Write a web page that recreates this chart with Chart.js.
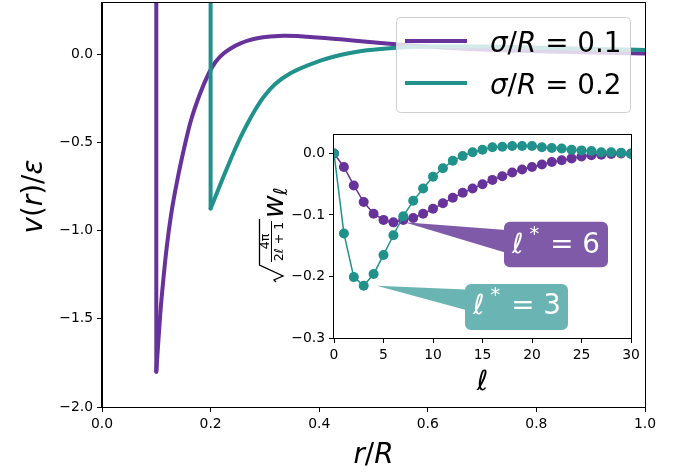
<!DOCTYPE html>
<html><head><meta charset="utf-8">
<script src="https://cdn.jsdelivr.net/npm/chart.js@4/dist/chart.umd.min.js"></script>
<style>
html,body{margin:0;padding:0;background:#fff;}
#wrap{position:relative;width:683px;height:474px;overflow:hidden;}
#main{position:absolute;left:0;top:0;}
#inset{position:absolute;left:250px;top:125px;}
</style></head><body>
<div id="wrap"><canvas id="main" width="683" height="474"></canvas><canvas id="inset" width="395" height="280"></canvas></div>
<script>
// ---------- data ----------
const seriesLabels = ['σ/R = 0.1', 'σ/R = 0.2'];
// sigma/R = 0.1 : first point is the hard-core wall (off the top of the axes)
const r_s01 = [0.1, 0.1, 0.1031, 0.1074, 0.1129, 0.1193, 0.1276, 0.1387, 0.153, 0.163, 0.1796, 0.1967, 0.209, 0.2243, 0.24, 0.255, 0.27, 0.286, 0.31, 0.335, 0.36, 0.378, 0.41, 0.439, 0.513, 0.6, 0.7, 0.8, 0.9, 1.0];
const v_s01 = [0.5, -1.80, -1.658, -1.469, -1.280, -1.092, -0.903, -0.714, -0.51, -0.385, -0.232, -0.109, -0.045, 0.004, 0.037, 0.060, 0.077, 0.089, 0.099, 0.104, 0.102, 0.098, 0.091, 0.083, 0.062, 0.042, 0.025, 0.015, 0.009, 0.003];
// sigma/R = 0.2
const r_s02 = [0.2, 0.2, 0.2109, 0.2219, 0.233, 0.244, 0.255, 0.268, 0.283, 0.298, 0.319, 0.347, 0.396, 0.439, 0.47, 0.513, 0.56, 0.62, 0.7, 0.8, 0.9, 1.0];
const v_s02 = [0.5, -0.875, -0.793, -0.708, -0.626, -0.547, -0.473, -0.394, -0.312, -0.242, -0.170, -0.109, -0.044, -0.006, 0.013, 0.028, 0.038, 0.043, 0.042, 0.036, 0.029, 0.023];
// inset: multipole weights vs ell
const ell = [0,1,2,3,4,5,6,7,8,9,10,11,12,13,14,15,16,17,18,19,20,21,22,23,24,25,26,27,28,29,30];
const w_s01 = [0, -0.022, -0.052, -0.079, -0.098, -0.108, -0.112, -0.108, -0.105, -0.098, -0.090, -0.081, -0.072, -0.064, -0.057, -0.050, -0.043, -0.037, -0.031, -0.026, -0.022, -0.018, -0.014, -0.011, -0.008, -0.005, -0.003, -0.002, -0.001, 0.0, 0.0];
const w_s02 = [0, -0.130, -0.201, -0.215, -0.196, -0.165, -0.133, -0.102, -0.077, -0.057, -0.038, -0.024, -0.012, -0.004, 0.002, 0.006, 0.010, 0.011, 0.012, 0.012, 0.012, 0.010, 0.009, 0.008, 0.006, 0.005, 0.004, 0.002, 0.002, 0.001, -0.001];
const peakEll = [6, 3];
const peakText = ['6', '3'];
const mainXTicks = [0, 0.2, 0.4, 0.6, 0.8, 1.0];
const mainYTicks = [-2.0, -1.5, -1.0, -0.5, 0.0];
const insetXTicks = [0, 5, 10, 15, 20, 25, 30];
const insetYTicks = [-0.3, -0.2, -0.1, 0.0];

// ---------- styling ----------
const PURPLE = '#67339b', TEAL = '#21918c';
const PURPLE_BOX = '#7e5aa8', TEAL_BOX = '#6ab5b3';
const FAM = '"DejaVu Sans"';
const F = (s, it) => (it ? 'italic ' : '') + s + 'px ' + FAM;
const fmt1 = v => (Math.abs(v) < 1e-9 ? '0.0' : (v < 0 ? '\u2212' : '') + Math.abs(v).toFixed(1));

function pts(xs, ys, a, b) { const o = []; for (let i = a; i < b; i++) o.push({x: xs[i], y: ys[i]}); return o; }

function drawRich(ctx, pieces, x, y, align) {
  ctx.textAlign = 'left'; ctx.textBaseline = 'alphabetic';
  const ws = pieces.map(p => { ctx.font = p.f; return ctx.measureText(p.t).width; });
  const total = ws.reduce((a, b) => a + b, 0) + pieces.reduce((a, p) => a + (p.dx || 0), 0);
  let cx = align === 'center' ? x - total / 2 : x;
  pieces.forEach((p, i) => { ctx.font = p.f; cx += (p.dx || 0); ctx.fillText(p.t, cx, y + (p.dy || 0)); cx += ws[i]; });
  return total;
}

function frameScale(tickList, fmt, size) {
  return {
    type: 'linear',
    afterBuildTicks: s => { s.ticks = tickList.map(v => ({value: v})); },
    grid: {display: true, drawOnChartArea: false, drawTicks: true, tickLength: 5, color: '#000', tickWidth: 1},
    border: {display: true, color: '#000', width: 1},
    ticks: {font: {family: 'DejaVu Sans', size: size}, color: '#000', padding: 4, callback: fmt, maxRotation: 0, autoSkip: false}
  };
}
const framePlugin = {
  id: 'frame',
  beforeDatasetsDraw(chart) {
    if (chart.canvas.id !== 'inset') return;
    const a = chart.chartArea, ctx = chart.ctx;
    ctx.save(); ctx.fillStyle = '#fff'; ctx.fillRect(a.left, a.top, a.right - a.left, a.bottom - a.top); ctx.restore();
  },
  afterDraw(chart) {
    const a = chart.chartArea, ctx = chart.ctx;
    ctx.save(); ctx.strokeStyle = '#000'; ctx.lineWidth = 1;
    ctx.strokeRect(Math.round(a.left) - 0.5, Math.round(a.top) - 0.5, Math.round(a.right - a.left) + 1, Math.round(a.bottom - a.top) + 1);
    ctx.restore();
  }
};

// ---------- main chart ----------
const mx = frameScale(mainXTicks, v => fmt1(v), 13.9);
mx.min = 0; mx.max = 1;
mx.afterFit = s => { s.height = 67; s.paddingLeft = 0; s.paddingRight = 0; };
const my = frameScale(mainYTicks, v => fmt1(v), 13.9);
my.min = -2.0; my.max = 0.289;
my.afterFit = s => { s.width = 102; s.paddingTop = 0; s.paddingBottom = 0; };

const mainDecor = {
  id: 'mainDecor',
  afterDraw(chart) {
    const ctx = chart.ctx; ctx.save(); ctx.fillStyle = '#000';
    // x label r/R
    drawRich(ctx, [{t: 'r', f: F(27.8, true)}, {t: '/', f: F(27.8)}, {t: 'R', f: F(27.8, true)}], 373.5, 463, 'center');
    // y label v(r)/ε
    ctx.save(); ctx.translate(42, 196.5); ctx.rotate(-Math.PI / 2);
    drawRich(ctx, [{t: 'v', f: F(27.8, true)}, {t: '(', f: F(27.8)}, {t: 'r', f: F(27.8, true)}, {t: ')/', f: F(27.8)}, {t: 'ε', f: F(27.8, true)}], 0, 0, 'center');
    ctx.restore();
    // legend
    const L = 396, T = 17, W = 234, H = 95, rr = 4;
    ctx.beginPath(); ctx.roundRect(L + 0.5, T + 0.5, W, H, rr);
    ctx.fillStyle = 'rgba(255,255,255,0.8)'; ctx.fill();
    ctx.strokeStyle = '#d0d0d0'; ctx.lineWidth = 1; ctx.stroke();
    const cols = [PURPLE, TEAL], ys = [41, 83];
    for (let i = 0; i < 2; i++) {
      ctx.beginPath(); ctx.moveTo(405, ys[i]); ctx.lineTo(467, ys[i]);
      ctx.strokeStyle = cols[i]; ctx.lineWidth = 4; ctx.stroke();
      const parts = seriesLabels[i].split(' = ');
      const lhs = parts[0].split('/');
      ctx.fillStyle = '#000';
      drawRich(ctx, [{t: lhs[0], f: F(27.8, true)}, {t: '/', f: F(27.8)}, {t: lhs[1], f: F(27.8, true)}, {t: ' = ', f: F(27.8)}, {t: parts[1], f: F(27.8)}], 490, ys[i] + 10.5, 'left');
    }
    ctx.restore();
  }
};

const lineDs = (label, data, col, smooth) => Object.assign({label, data, showLine: true, borderColor: col, borderWidth: 4, pointRadius: 0, borderCapStyle: 'round', borderJoinStyle: 'round', clip: 0}, smooth ? {cubicInterpolationMode: 'monotone'} : {});

new Chart(document.getElementById('main'), {
  type: 'scatter',
  data: {datasets: [
    lineDs(seriesLabels[1] + ' wall', pts(r_s02, v_s02, 0, 2), TEAL, false),
    lineDs(seriesLabels[1], pts(r_s02, v_s02, 1, r_s02.length), TEAL, true),
    lineDs(seriesLabels[0] + ' wall', pts(r_s01, v_s01, 0, 2), PURPLE, false),
    lineDs(seriesLabels[0], pts(r_s01, v_s01, 1, r_s01.length), PURPLE, true)
  ]},
  options: {
    animation: false, responsive: false, devicePixelRatio: 1,
    layout: {padding: {top: 3, right: 38, left: 0, bottom: 0}},
    plugins: {legend: {display: false}, tooltip: {enabled: false}},
    scales: {x: mx, y: my}
  },
  plugins: [framePlugin, mainDecor]
});

// ---------- inset chart ----------
const ix = frameScale(insetXTicks, v => String(v), 13.9);
ix.min = 0; ix.max = 30;
ix.afterFit = s => { s.height = 67; s.paddingLeft = 0; s.paddingRight = 0; };
const iy = frameScale(insetYTicks, v => fmt1(v), 13.9);
iy.min = -0.3; iy.max = 0.03;
iy.afterFit = s => { s.width = 84; s.paddingTop = 0; s.paddingBottom = 0; };

const insetDecor = {
  id: 'insetDecor',
  afterDraw(chart) {
    const ctx = chart.ctx, xs = chart.scales.x, ys = chart.scales.y;
    ctx.save();
    // x label ℓ
    ctx.fillStyle = '#000';
    drawRich(ctx, [{t: 'ℓ', f: F(27.8, true)}], (chart.chartArea.left + chart.chartArea.right) / 2, 265, 'center');
    // y label sqrt(4π/(2ℓ+1)) w_ℓ  (drawn in a rotated frame)
    ctx.save(); ctx.translate(23, 109); ctx.rotate(-Math.PI / 2);
    ctx.strokeStyle = '#000'; ctx.lineWidth = 1.3; ctx.lineJoin = 'miter';
    ctx.beginPath(); ctx.moveTo(-48, 3); ctx.lineTo(-46, 1); ctx.lineTo(-42, 10); ctx.lineTo(-31, -13.5); ctx.lineTo(15, -13.5); ctx.stroke();
    ctx.beginPath(); ctx.moveTo(-28, -1.5); ctx.lineTo(13, -1.5); ctx.lineWidth = 1; ctx.stroke();
    drawRich(ctx, [{t: '4π', f: F(12.5)}], -7.5, -4, 'center');
    drawRich(ctx, [{t: '2', f: F(12.5)}, {t: 'ℓ', f: F(12.5, true)}, {t: '+', f: F(12.5), dx: 4}, {t: '1', f: F(12.5), dx: 4}], -7.5, 9.5, 'center');
    const ww = drawRich(ctx, [{t: 'w', f: F(27.8, true)}], 16, 10, 'left');
    drawRich(ctx, [{t: 'ℓ', f: F(19, true)}], 16 + ww, 14, 'left');
    ctx.restore();
    // annotations
    const ann = [
      {i: 0, col: PURPLE_BOX, L: 504, T: 221.7, W: 104, H: 45.6, a: 9, b: 34, off: 11, base: 31.5},
      {i: 1, col: TEAL_BOX, L: 465, T: 284, W: 103, H: 46, a: 6, b: 29, off: 13, base: 30}
    ];
    ann.forEach(o => {
      const s = o.i === 0 ? w_s01 : w_s02;
      const k = peakEll[o.i];
      const tx = xs.getPixelForValue(ell[k]) + o.off, ty = ys.getPixelForValue(s[k]);
      const L = o.L - 250, T = o.T - 125;
      ctx.beginPath();
      ctx.moveTo(tx, ty); ctx.lineTo(L + 12, T + o.a); ctx.lineTo(L + 12, T + o.b); ctx.closePath();
      ctx.roundRect(L, T, o.W, o.H, 6);
      ctx.fillStyle = o.col; ctx.fill();
      ctx.fillStyle = '#fff';
      drawRich(ctx, [{t: 'ℓ', f: F(27.8, true)}, {t: '*', f: F(19.5), dx: 6, dy: -13}, {t: ' = ', f: F(27.8), dx: 2}, {t: peakText[o.i], f: F(27.8)}], L + 52, T + o.base, 'center');
    });
    ctx.restore();
  }
};

const dotDs = (label, ys, col) => ({label, data: ell.map((l, i) => ({x: l, y: ys[i]})), showLine: true, borderColor: col, backgroundColor: col, borderWidth: 1.5, pointRadius: 5, pointBorderWidth: 0, pointBackgroundColor: col, clip: 0});

new Chart(document.getElementById('inset'), {
  type: 'scatter',
  data: {datasets: [dotDs(seriesLabels[1], w_s02, TEAL), dotDs(seriesLabels[0], w_s01, PURPLE)]},
  options: {
    animation: false, responsive: false, devicePixelRatio: 1,
    layout: {padding: {top: 10, right: 14, left: 0, bottom: 0}},
    plugins: {legend: {display: false}, tooltip: {enabled: false}},
    scales: {x: ix, y: iy}
  },
  plugins: [framePlugin, insetDecor]
});
</script>
</body></html>
